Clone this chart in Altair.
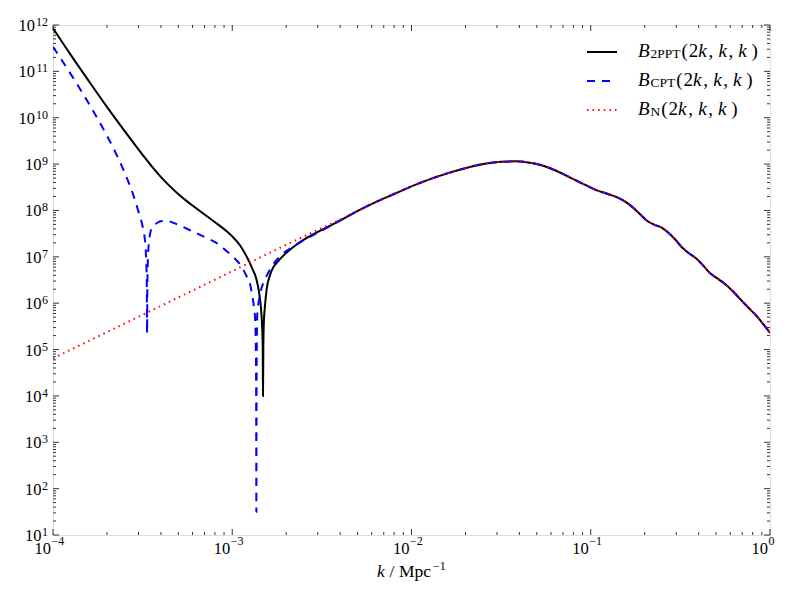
import altair as alt
import pandas as pd

FONT = "Liberation Serif"
W, H = 717, 510

# ---- values (log10 k [Mpc^-1], log10 B) ----
b2ppt_logk = [-4.00, -3.90, -3.80, -3.70, -3.60, -3.50, -3.45, -3.40, -3.35, -3.30,
              -3.25, -3.20, -3.143, -3.08, -3.031, -3.00, -2.957, -2.919,
              -2.89, -2.864, -2.85, -2.84, -2.834, -2.830, -2.8285, -2.8265, -2.824, -2.818,
              -2.808, -2.79, -2.77, -2.75, -2.70, -2.65, -2.60, -2.50, -2.40, -2.30]
b2ppt_logB = [11.93, 11.35, 10.79, 10.24, 9.71, 9.20, 8.955, 8.73, 8.53, 8.35,
              8.19, 8.045, 7.88, 7.70, 7.55, 7.44, 7.25, 7.00,
              6.76, 6.50, 6.22, 5.90, 5.55, 5.05, 4.00, 5.05, 5.55, 5.92,
              6.30, 6.60, 6.78, 6.88, 7.08, 7.24, 7.37, 7.58, 7.78, 7.99]

bcpt_logk = [-4.00, -3.95, -3.90, -3.85, -3.80, -3.75, -3.70, -3.65, -3.60, -3.55,
             -3.52, -3.50, -3.49, -3.482, -3.477, -3.475, -3.4735, -3.470, -3.465, -3.458,
             -3.445, -3.42, -3.39, -3.36, -3.32, -3.25, -3.20, -3.14, -3.08, -3.03,
             -2.98, -2.95, -2.92, -2.90, -2.89, -2.88, -2.873, -2.869, -2.8665, -2.8655,
             -2.8645, -2.8625, -2.860, -2.85, -2.84, -2.827, -2.80, -2.78, -2.725, -2.66,
             -2.60, -2.50, -2.40, -2.30]
bcpt_logB = [11.53, 11.235, 10.935, 10.625, 10.305, 9.97, 9.62, 9.24, 8.81, 8.31,
             7.935, 7.655, 7.45, 7.08, 6.50, 5.35, 6.40, 7.00, 7.30, 7.50,
             7.64, 7.73, 7.77, 7.77, 7.72, 7.60, 7.51, 7.40, 7.28, 7.12,
             6.94, 6.80, 6.58, 6.40, 6.20, 5.95, 5.70, 5.20, 4.00, 1.50,
             4.00, 5.30, 5.80, 6.08, 6.28, 6.43, 6.65, 6.79, 7.04, 7.22,
             7.36, 7.57, 7.78, 7.99]

bn_logk = [-4.00, -3.50, -3.00, -2.80, -2.60, -2.50, -2.40, -2.30]
bn_logB = [4.81, 5.75, 6.69, 7.07, 7.44, 7.62, 7.80, 7.99]

# part where the three curves coincide
common_logk = [-2.20, -2.10, -2.00, -1.90, -1.80, -1.70, -1.60, -1.50, -1.42, -1.34,
               -1.28, -1.22, -1.15, -1.10, -1.03, -0.97, -0.90, -0.84, -0.80, -0.76,
               -0.72, -0.69, -0.65, -0.60, -0.57, -0.53, -0.49, -0.45, -0.41, -0.37,
               -0.335, -0.30, -0.26, -0.21, -0.167, -0.12, -0.074, -0.04, 0.00]
common_logB = [8.18, 8.35, 8.52, 8.67, 8.80, 8.91, 9.00, 9.05, 9.06, 9.03,
               8.98, 8.90, 8.78, 8.68, 8.55, 8.44, 8.35, 8.26, 8.17, 8.05,
               7.90, 7.79, 7.70, 7.62, 7.53, 7.38, 7.20, 7.07, 6.96, 6.80,
               6.65, 6.55, 6.44, 6.27, 6.09, 5.90, 5.72, 5.56, 5.36]

x_exponents = ["\u22124", "\u22123", "\u22122", "\u22121", "0"]
y_exponents = [str(e) for e in range(1, 13)]

legend_subs = ["2PPT", "CPT", "N"]


def series(logk, logB):
    ks = list(logk) + common_logk
    bs = list(logB) + common_logB
    return pd.DataFrame({"k": [10.0 ** v for v in ks], "B": [10.0 ** v for v in bs]})


xs = alt.Scale(type="log", domain=[1e-4, 1.0], nice=False)
ys = alt.Scale(type="log", domain=[1e1, 1e12], nice=False)
dummy = pd.DataFrame({"a": [0]})

layers = []

# ---- tick marks (inside, all four sides) ----
x_major = [10.0 ** e for e in range(-4, 1)]
x_minor = [m * 10.0 ** e for e in range(-4, 0) for m in range(2, 10)]
y_major = [10.0 ** e for e in range(1, 13)]
y_minor = [m * 10.0 ** e for e in range(1, 12) for m in range(2, 10)]
for vals, L in [(x_major, 6), (x_minor, 3)]:
    d = pd.DataFrame({"v": vals})
    X = alt.X("v:Q", scale=xs, axis=None)
    layers.append(alt.Chart(d).mark_rule(color="black", strokeWidth=0.8).encode(
        x=X, y=alt.value(H), y2=alt.value(H - L)))
    layers.append(alt.Chart(d).mark_rule(color="black", strokeWidth=0.8).encode(
        x=X, y=alt.value(0), y2=alt.value(L)))
for vals, L in [(y_major, 6), (y_minor, 3)]:
    d = pd.DataFrame({"v": vals})
    Y = alt.Y("v:Q", scale=ys, axis=None)
    layers.append(alt.Chart(d).mark_rule(color="black", strokeWidth=0.8).encode(
        y=Y, x=alt.value(0), x2=alt.value(L)))
    layers.append(alt.Chart(d).mark_rule(color="black", strokeWidth=0.8).encode(
        y=Y, x=alt.value(W), x2=alt.value(W - L)))


# ---- curves ----
def line(df, color, dash=None, width=2.0):
    kw = dict(color=color, strokeWidth=width, clip=True, interpolate="monotone")
    if dash:
        kw["strokeDash"] = dash
    return alt.Chart(df).mark_line(**kw).encode(
        x=alt.X("k:Q", scale=xs, axis=None),
        y=alt.Y("B:Q", scale=ys, axis=None),
        order=alt.Order("k:Q"))


layers.append(line(series(b2ppt_logk, b2ppt_logB), "#000000"))
layers.append(line(series(bcpt_logk, bcpt_logB), "#0000ff", dash=[8, 7]))
layers.append(line(series(bn_logk, bn_logB), "#ff0000", dash=[1.5, 4.1]))

# ---- tick labels ----
xl = pd.DataFrame({"v": x_major, "e": x_exponents})
layers.append(alt.Chart(xl).mark_text(text="10", font=FONT, fontSize=16.5, align="right",
                                      baseline="alphabetic", dx=-2, color="black").encode(
    x=alt.X("v:Q", scale=xs, axis=None), y=alt.value(H + 18.5)))
layers.append(alt.Chart(xl).mark_text(font=FONT, fontSize=12, align="left",
                                      baseline="alphabetic", dx=-1.5, color="black").encode(
    x=alt.X("v:Q", scale=xs, axis=None), y=alt.value(H + 10), text="e:N"))

yl = pd.DataFrame({"v": y_major, "e": y_exponents})
layers.append(alt.Chart(yl).mark_text(font=FONT, fontSize=12, align="right",
                                      baseline="alphabetic", dy=1, color="black").encode(
    y=alt.Y("v:Q", scale=ys, axis=None), x=alt.value(-5), text="e:N"))
for n, xpos in [(1, -11.5), (2, -18)]:
    layers.append(alt.Chart(yl).transform_filter(f"length(datum.e) == {n}").mark_text(
        text="10", font=FONT, fontSize=16.5, align="right", baseline="alphabetic", dy=6,
        color="black").encode(y=alt.Y("v:Q", scale=ys, axis=None), x=alt.value(xpos)))


def txt(s, x, y, size=19, style="normal"):
    return alt.Chart(dummy).mark_text(text=s, font=FONT, fontSize=size, fontStyle=style,
                                      align="left", baseline="alphabetic",
                                      color="black").encode(x=alt.value(x), y=alt.value(y))


# ---- x axis title:  k / Mpc^-1 ----
layers.append(txt("k", 324, 552, 17.5, "italic"))
layers.append(txt("/", 336.5, 552, 17.5))
layers.append(txt("Mpc", 346, 552, 17.5))
layers.append(txt("\u22121", 380, 545, 12))

# ---- legend ----
widths = {"2": 0.5, "P": 0.556, "T": 0.611, "C": 0.667, "N": 0.722}
styles = [("#000000", None), ("#0000ff", [8, 7]), ("#ff0000", [1.5, 4.1])]
rows = [27, 56, 85]
tail = [("(", 0, "normal"), ("2", 7.3, "normal"), ("k", 16.7, "italic"), (",", 27, "normal"),
        ("k", 37, "italic"), (",", 47, "normal"), ("k", 56.7, "italic"), (")", 70, "normal")]
for (color, dash), ry, sub in zip(styles, rows, legend_subs):
    kw = dict(color=color, strokeWidth=2)
    if dash:
        kw["strokeDash"] = dash
    layers.append(alt.Chart(dummy).mark_rule(**kw).encode(
        x=alt.value(534), x2=alt.value(564), y=alt.value(ry)))
    layers.append(txt("B", 585, ry + 5, 19, "italic"))
    layers.append(txt(sub, 597.5, ry + 6, 13.5))
    p0 = 597.5 + sum(widths[c] for c in sub) * 13.5 + 1
    for s, off, st in tail:
        layers.append(txt(s, p0 + off, ry + 5, 19, st))

chart = alt.layer(*layers).properties(
    width=W, height=H,
    autosize=alt.AutoSizeParams(type="none"),
    padding={"left": 45, "top": 17, "right": 20, "bottom": 55},
).configure_view(stroke="black", strokeWidth=1.5).configure(background="white")

chart.save("out.html", embed_options={"renderer": "svg", "actions": False})
